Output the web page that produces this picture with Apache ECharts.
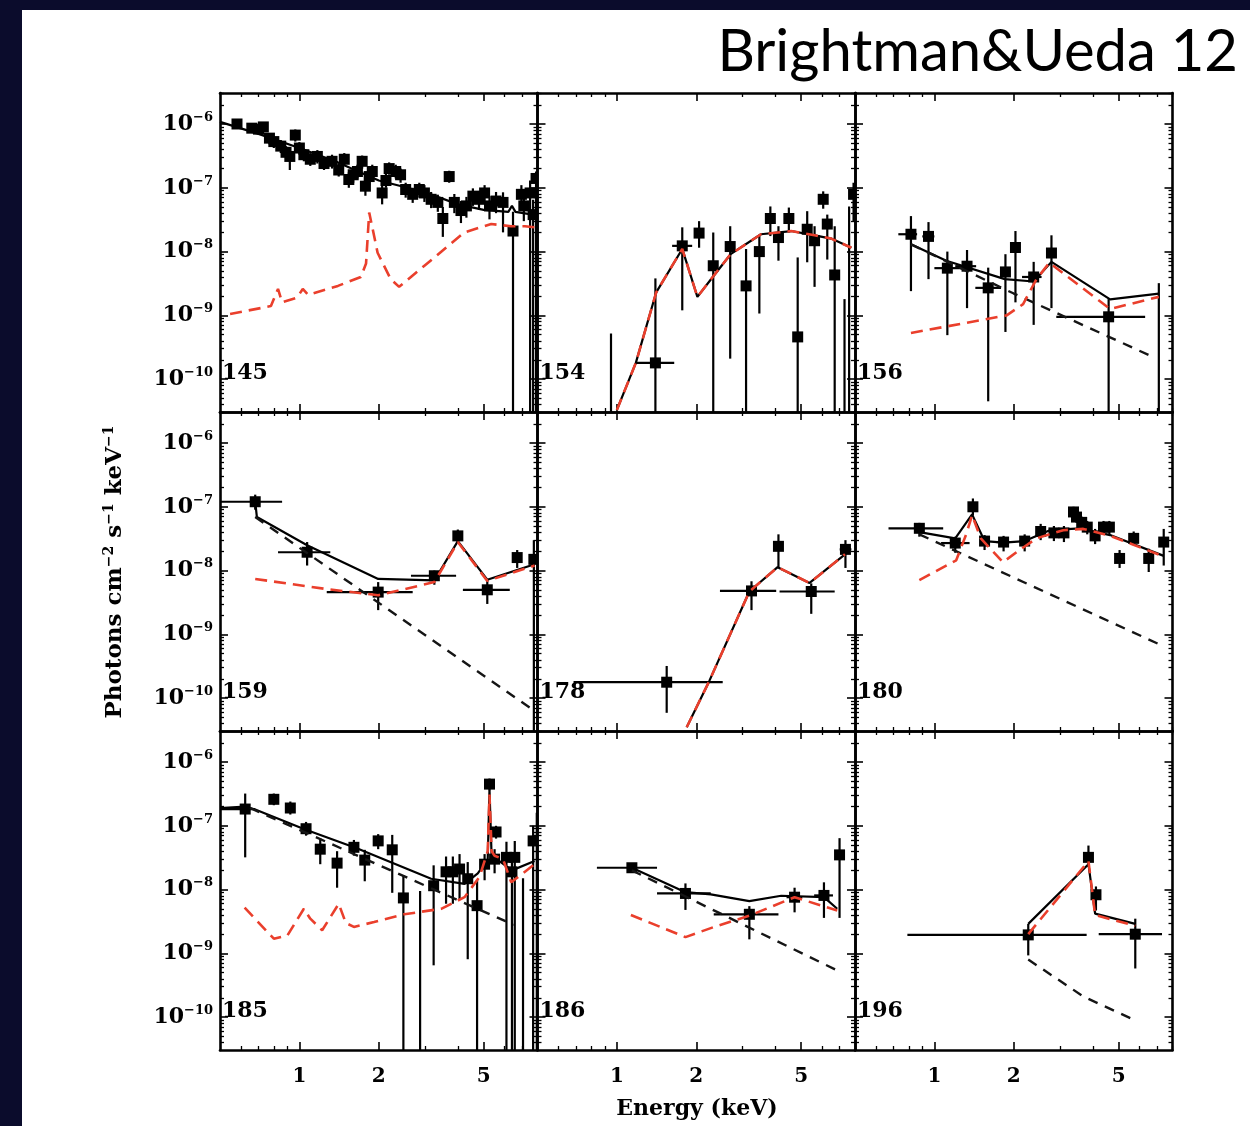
<!DOCTYPE html>
<html><head><meta charset="utf-8">
<script src="https://cdn.jsdelivr.net/npm/echarts@6/dist/echarts.min.js"></script>
<style>html,body{margin:0;padding:0;background:#fff}#c{width:1250px;height:1126px}</style>
</head><body><div id="c"></div><script>
// ---------- tick values ----------
const xMajor = [1, 2, 5];
const xMinor = [0.6, 0.7, 0.8, 0.9, 3, 4, 6, 7, 8];
const yMajor = [1e-10, 1e-9, 1e-8, 1e-7, 1e-6];
const yMinorMult = [2, 3, 4, 5, 6, 7, 8, 9];
const panelNames = ['145', '154', '156', '159', '178', '180', '185', '186', '196'];

// ---------- data points: [E, F, Elo, Ehi, Flo, Fhi] ----------
const pts145 = [
 [0.58,1.0e-6,0.56,0.60,8.5e-7,1.15e-6],[0.66,8.6e-7,0.64,0.68,7.2e-7,1.0e-6],[0.70,8.3e-7,0.68,0.72,6.8e-7,9.8e-7],
 [0.73,9.0e-7,0.71,0.75,7.4e-7,1.06e-6],[0.77,6.0e-7,0.75,0.79,4.8e-7,7.2e-7],[0.80,5.3e-7,0.78,0.82,4.2e-7,6.5e-7],
 [0.85,4.5e-7,0.83,0.87,3.5e-7,5.6e-7],[0.89,3.6e-7,0.87,0.91,2.8e-7,4.5e-7],[0.92,3.1e-7,0.90,0.94,1.9e-7,4.0e-7],
 [0.965,6.7e-7,0.945,0.985,5.3e-7,8.2e-7],[1.0,4.2e-7,0.98,1.02,3.3e-7,5.2e-7],[1.04,3.3e-7,1.02,1.06,2.6e-7,4.1e-7],
 [1.10,2.8e-7,1.08,1.12,2.2e-7,3.5e-7],[1.17,3.1e-7,1.15,1.19,2.4e-7,3.9e-7],[1.24,2.4e-7,1.22,1.26,1.9e-7,3.0e-7],
 [1.33,2.6e-7,1.31,1.35,2.0e-7,3.3e-7],[1.41,1.9e-7,1.39,1.43,1.5e-7,2.4e-7],[1.48,2.8e-7,1.46,1.50,2.2e-7,3.5e-7],
 [1.54,1.35e-7,1.52,1.56,1.0e-7,1.75e-7],[1.60,1.6e-7,1.58,1.62,1.2e-7,2.0e-7],[1.66,1.8e-7,1.64,1.68,1.4e-7,2.3e-7],
 [1.73,2.6e-7,1.71,1.75,2.0e-7,3.2e-7],[1.78,1.06e-7,1.76,1.80,7.5e-8,1.4e-7],[1.84,1.5e-7,1.82,1.86,1.1e-7,1.9e-7],
 [1.89,1.8e-7,1.87,1.91,1.4e-7,2.3e-7],[2.06,8.3e-8,2.03,2.09,5.5e-8,1.1e-7],[2.13,1.3e-7,2.10,2.16,1.0e-7,1.7e-7],
 [2.19,2.0e-7,2.16,2.22,1.6e-7,2.5e-7],[2.32,1.8e-7,2.29,2.35,1.4e-7,2.3e-7],[2.42,1.6e-7,2.39,2.45,1.2e-7,2.0e-7],
 [2.53,9.4e-8,2.50,2.56,7.0e-8,1.2e-7],[2.69,7.9e-8,2.65,2.73,5.8e-8,1.0e-7],[2.85,9.4e-8,2.81,2.89,7.0e-8,1.2e-7],
 [2.98,8.3e-8,2.94,3.02,6.0e-8,1.1e-7],[3.16,6.6e-8,3.12,3.20,4.8e-8,8.6e-8],[3.35,5.9e-8,3.30,3.40,4.2e-8,7.8e-8],
 [3.50,3.3e-8,3.45,3.55,1.7e-8,5.0e-8],[3.70,1.5e-7,3.65,3.75,1.2e-7,1.85e-7],[3.87,5.9e-8,3.82,3.92,4.0e-8,8.0e-8],
 [4.10,4.4e-8,4.04,4.16,2.8e-8,6.2e-8],[4.30,5.2e-8,4.24,4.36,3.4e-8,7.2e-8],[4.55,7.4e-8,4.48,4.62,5.2e-8,9.8e-8],
 [4.80,6.6e-8,4.73,4.87,4.5e-8,9.0e-8],[5.04,8.3e-8,4.97,5.11,5.8e-8,1.1e-7],[5.26,5.2e-8,5.18,5.34,3.2e-8,7.4e-8],
 [5.57,6.2e-8,5.49,5.65,4.0e-8,8.6e-8],[5.92,5.9e-8,5.83,6.01,2.0e-8,8.5e-8],[6.46,2.1e-8,6.36,6.56,1e-12,4.2e-8],
 [6.95,7.9e-8,6.85,7.05,5.0e-8,1.1e-7],[7.10,5.2e-8,7.00,7.20,3.0e-8,7.5e-8],[7.50,8.3e-8,7.40,7.60,1e-12,1.3e-7],
 [7.70,3.8e-8,7.60,7.80,1e-12,6.5e-8],[7.90,1.4e-7,7.82,7.98,1e-12,1.8e-7]
];
const pts154 = [
 [1.40,1.8e-10,1.18,1.65,1e-12,3.8e-9],[0.95,1e-12,0.95,0.95,1e-12,5.2e-10],[1.77,1.23e-8,1.62,1.93,1.2e-9,2.4e-8],
 [2.05,1.95e-8,2.0,2.1,1.15e-8,3.0e-8],[2.32,6.0e-9,2.27,2.37,1e-12,2.0e-8],[2.69,1.2e-8,2.62,2.76,2.1e-10,2.5e-8],
 [3.09,2.9e-9,3.0,3.18,1e-12,1.1e-8],[3.47,1.0e-8,3.4,3.55,1.07e-9,1.8e-8],[3.82,3.3e-8,3.75,3.9,1.75e-8,5.1e-8],
 [4.10,1.66e-8,4.03,4.17,7.2e-9,2.5e-8],[4.49,3.3e-8,4.42,4.56,2.0e-8,4.9e-8],[4.85,4.6e-10,4.8,4.9,1e-12,8.1e-9],
 [5.27,2.24e-8,5.2,5.34,6.8e-9,4.3e-8],[5.62,1.48e-8,5.55,5.69,2.8e-9,2.5e-8],[6.06,6.6e-8,6.0,6.12,4.7e-8,8.8e-8],
 [6.28,2.7e-8,6.22,6.34,7.5e-9,3.8e-8],[6.70,4.3e-9,6.64,6.76,1e-12,2.5e-8],[7.3,1e-12,7.3,7.3,1e-12,1.8e-9],
 [7.6,1e-12,7.6,7.6,1e-12,5.1e-8],[7.9,7.9e-8,7.82,7.98,3.0e-8,1.2e-7]
];
const pts156 = [
 [0.815,1.87e-8,0.73,0.86,2.4e-9,3.6e-8],[0.95,1.73e-8,0.90,1.0,3.7e-9,2.9e-8],[1.12,5.5e-9,1.0,1.29,4.9e-10,1.0e-8],
 [1.33,5.9e-9,1.2,1.44,1.3e-9,1.06e-8],[1.6,2.7e-9,1.43,1.79,4.5e-11,5.6e-9],[1.86,4.8e-9,1.8,1.92,5.5e-10,9.1e-9],
 [2.03,1.16e-8,2.0,2.06,1.6e-9,2.1e-8],[2.38,4.0e-9,2.15,2.55,7.1e-10,6.9e-9],[2.78,9.5e-9,2.73,2.83,1.3e-9,1.8e-8],
 [4.58,9.5e-10,2.9,6.3,1e-12,1.8e-9],[7.1,1e-12,7.1,7.1,1e-12,3.2e-9]
];
const pts159 = [
 [0.68,1.2e-7,0.5,0.86,9.0e-8,1.55e-7],[1.07,1.94e-8,0.83,1.31,1.2e-8,2.8e-8],[1.99,4.6e-9,1.27,2.69,2.4e-9,6.6e-9],
 [3.25,8.3e-9,2.65,3.93,6.0e-9,1.0e-8],[3.99,3.5e-8,3.9,4.08,2.7e-8,4.4e-8],[5.16,5.0e-9,4.17,6.28,3.0e-9,7.4e-9],
 [6.70,1.6e-8,6.5,6.9,1.1e-8,2.1e-8],[7.75,1.5e-8,7.6,7.9,1e-12,3.0e-8]
];
const pts178 = [
 [1.545,1.78e-10,0.685,2.52,5.9e-11,3.2e-10],[3.24,4.8e-9,2.46,4.02,2.4e-9,6.8e-9],[4.10,2.4e-8,4.05,4.15,1.1e-8,3.7e-8],
 [5.46,4.7e-9,4.14,6.7,2.1e-9,6.3e-9],[7.36,2.15e-8,7.0,7.75,1.1e-8,3.0e-8]
];
const pts180 = [
 [0.877,4.6e-8,0.67,1.08,3.4e-8,5.6e-8],[1.2,2.7e-8,1.06,1.36,1.9e-8,3.4e-8],[1.4,1.0e-7,1.36,1.44,7.3e-8,1.35e-7],
 [1.55,2.9e-8,1.5,1.6,2.1e-8,3.6e-8],[1.83,2.8e-8,1.72,1.93,2.0e-8,3.5e-8],[2.2,2.9e-8,2.1,2.3,2.0e-8,3.7e-8],
 [2.53,4.1e-8,2.45,2.61,3.0e-8,5.4e-8],[2.84,3.9e-8,2.76,2.92,2.9e-8,5.0e-8],[3.1,3.9e-8,3.02,3.18,2.8e-8,5.0e-8],
 [3.37,8.3e-8,3.33,3.41,6.6e-8,1.0e-7],[3.46,6.9e-8,3.42,3.5,5.6e-8,8.3e-8],[3.62,5.7e-8,3.57,3.67,4.5e-8,7.0e-8],
 [3.8,4.8e-8,3.75,3.85,3.7e-8,6.0e-8],[4.07,3.5e-8,4.0,4.14,2.6e-8,4.5e-8],[4.38,4.8e-8,4.3,4.46,3.7e-8,6.0e-8],
 [4.61,4.8e-8,4.53,4.69,3.7e-8,6.0e-8],[5.04,1.55e-8,4.95,5.13,1.1e-8,2.1e-8],[5.7,3.2e-8,5.6,5.8,2.5e-8,4.1e-8],
 [6.5,1.55e-8,6.3,6.7,9.5e-9,2.2e-8],[7.41,2.8e-8,7.3,7.52,1.2e-8,4.5e-8]
];
const pts185 = [
 [0.623,1.83e-7,0.5,0.68,3.2e-8,3.2e-7],[0.80,2.6e-7,0.77,0.83,2.1e-7,3.2e-7],[0.924,1.9e-7,0.89,0.96,1.5e-7,2.4e-7],
 [1.06,9.0e-8,1.02,1.1,7.0e-8,1.15e-7],[1.2,4.3e-8,1.15,1.25,2.5e-8,6.4e-8],[1.39,2.6e-8,1.33,1.45,1.07e-8,4.0e-8],
 [1.61,4.6e-8,1.56,1.66,3.4e-8,6.0e-8],[1.77,2.9e-8,1.72,1.82,1.35e-8,4.2e-8],[1.99,5.8e-8,1.94,2.04,4.3e-8,7.4e-8],
 [2.25,4.2e-8,2.19,2.31,8.9e-9,7.2e-8],[2.48,7.4e-9,2.4,2.56,1e-12,1.7e-8],[2.87,1e-12,2.87,2.87,1e-12,9.5e-9],
 [3.23,1.15e-8,3.1,3.36,6.5e-10,2.4e-8],[3.6,1.9e-8,3.5,3.7,6e-9,3.3e-8],[3.82,1.9e-8,3.72,3.92,6e-9,3.3e-8],
 [4.05,2.1e-8,3.95,4.15,7e-9,3.6e-8],[4.35,1.48e-8,4.25,4.45,8.1e-10,2.7e-8],[4.72,5.6e-9,4.6,4.85,1e-12,1.4e-8],
 [5.04,2.5e-8,4.95,5.13,1.4e-8,3.6e-8],[5.26,4.5e-7,5.2,5.32,3.6e-7,5.5e-7],[5.5,3.0e-8,5.42,5.58,1.8e-8,4.3e-8],
 [5.57,8.0e-8,5.5,5.64,6.3e-8,1.0e-7],[6.1,3.2e-8,6.0,6.2,1e-12,5.6e-8],[6.4,1.9e-8,6.3,6.5,1e-12,3.5e-8],
 [6.56,3.2e-8,6.46,6.66,1e-12,5.8e-8],[7.05,1e-12,7.05,7.05,1e-12,1.5e-8],[7.7,5.8e-8,7.6,7.8,1e-12,1.0e-7],
 [7.95,1e-12,7.95,7.95,1e-12,1.6e-7]
];
const pts186 = [
 [1.14,2.2e-8,0.84,1.42,1.9e-8,2.6e-8],[1.82,8.7e-9,1.42,2.27,4.8e-9,1.25e-8],[3.18,4.1e-9,2.33,4.1,1.66e-9,5.5e-9],
 [4.72,7.6e-9,4.4,5.05,4.4e-9,1.07e-8],[6.1,8.1e-9,5.6,6.6,3.6e-9,1.3e-8],[6.99,3.5e-8,6.9,7.1,3.6e-9,6.4e-8]
];
const pts196 = [
 [2.27,1.95e-9,0.79,3.78,9.3e-10,2.9e-9],[3.84,3.2e-8,3.8,3.88,2.5e-8,4.9e-8],[4.1,8.3e-9,4.05,4.15,4.7e-9,1.12e-8],
 [5.78,2.0e-9,4.2,7.3,5.8e-10,3.5e-9]
];

// ---------- model curves: [E, F] ----------
const tot145 = [[0.5,1.08e-6],[0.7,7.0e-7],[1.0,4.2e-7],[1.4,2.5e-7],[2.0,1.3e-7],[3.0,8.5e-8],[4.0,5.5e-8],[5.0,4.5e-8],[6.2,4.2e-8],[6.4,5.2e-8],[6.6,4.2e-8],[8.0,3.7e-8]];
const rfl145 = [[0.546,1.05e-9],[0.78,1.4e-9],[0.83,2.6e-9],[0.86,1.6e-9],[0.98,1.9e-9],[1.03,2.6e-9],[1.08,2.1e-9],[1.4,2.9e-9],[1.71,4.0e-9],[1.79,6.5e-9],[1.84,4.1e-8],[1.98,9.6e-9],[2.22,3.7e-9],[2.39,2.8e-9],[2.98,6.0e-9],[3.55,1.1e-8],[4.22,2.0e-8],[5.34,2.7e-8],[6.36,2.5e-8],[7.16,2.5e-8],[7.8,2.4e-8]];
const tot154 = [[1.0,3.3e-11],[1.18,1.8e-10],[1.41,2.3e-9],[1.77,1.1e-8],[2.02,1.95e-9],[2.31,4.0e-9],[2.7,9.1e-9],[3.52,1.87e-8],[4.58,2.1e-8],[5.62,1.8e-8],[6.5,1.6e-8],[7.75,1.15e-8]];
const tot156 = [[0.815,1.3e-8],[1.11,7.2e-9],[1.85,3.7e-9],[2.38,3.4e-9],[2.78,6.9e-9],[4.64,1.78e-9],[7.1,2.2e-9]];
const rfl156 = [[0.815,5.3e-10],[1.88,1.0e-9],[2.17,1.5e-9],[2.44,3.7e-9],[2.73,6.7e-9],[4.64,1.26e-9],[7.1,1.95e-9]];
const pl156  = [[0.815,1.3e-8],[2.0,2.2e-9],[6.8,2.2e-10]];
const tot159 = [[0.68,1.2e-7],[0.69,6.9e-8],[1.07,2.5e-8],[1.99,7.4e-9],[3.25,7.0e-9],[3.99,2.9e-8],[5.16,7.2e-9],[7.8,1.26e-8]];
const rfl159 = [[0.68,7.4e-9],[1.24,5.2e-9],[1.99,4.1e-9],[3.25,6.6e-9],[3.99,2.8e-8],[5.16,6.9e-9],[7.8,1.2e-8]];
const pl159  = [[0.68,6.9e-8],[7.8,6.3e-11]];
const tot178 = [[1.84,3.5e-11],[2.24,1.85e-10],[3.18,4.7e-9],[4.07,1.13e-8],[5.38,6.4e-9],[7.33,1.8e-8]];
const tot180 = [[0.877,4.0e-8],[1.2,3.2e-8],[1.39,7.6e-8],[1.55,2.9e-8],[1.83,2.75e-8],[2.2,2.9e-8],[2.74,4.3e-8],[3.57,4.6e-8],[4.64,3.6e-8],[7.41,1.7e-8]];
const rfl180 = [[0.877,7.1e-9],[1.21,1.45e-8],[1.32,3.7e-8],[1.39,7.4e-8],[1.5,3.2e-8],[1.82,1.35e-8],[2.05,1.95e-8],[2.44,3.2e-8],[3.08,4.3e-8],[3.67,4.5e-8],[4.64,3.5e-8],[7.41,1.67e-8]];
const pl180  = [[0.877,3.7e-8],[7.41,6.5e-10]];
const tot185 = [[0.5,1.9e-7],[0.623,2.0e-7],[0.68,1.8e-7],[1.04,8.9e-8],[1.66,4.4e-8],[3.16,1.48e-8],[4.23,1.23e-8],[4.75,1.8e-8],[5.18,3.0e-8],[5.26,3.7e-7],[5.36,3.2e-8],[5.6,3.0e-8],[6.4,2.0e-8],[7.8,2.8e-8]];
const rfl185 = [[0.62,5.2e-9],[0.8,1.7e-9],[0.9,1.9e-9],[1.04,5.0e-9],[1.1,3.5e-9],[1.22,2.3e-9],[1.41,6.0e-9],[1.5,3.0e-9],[1.61,2.6e-9],[1.92,3.1e-9],[2.5,4.1e-9],[3.45,5.0e-9],[4.23,7.6e-9],[4.82,1.58e-8],[5.18,4.0e-8],[5.26,3.1e-7],[5.36,4.0e-8],[5.5,3.4e-8],[5.92,3.0e-8],[6.36,1.3e-8],[7.8,2.5e-8]];
const pl185  = [[0.65,1.9e-7],[6.5,2.8e-9]];
const tot186 = [[1.14,2.2e-8],[1.82,9.1e-9],[2.27,8.4e-9],[3.18,6.6e-9],[4.2,8.0e-9],[6.1,7.6e-9],[6.85,5.0e-9]];
const rfl186 = [[1.13,4.0e-9],[1.82,1.8e-9],[2.34,2.6e-9],[3.18,3.9e-9],[4.72,7.6e-9],[6.85,4.7e-9]];
const pl186  = [[1.14,2.0e-8],[6.85,5.4e-10]];
const tot196 = [[2.27,2.9e-9],[3.84,2.5e-8],[4.07,4.2e-9],[5.78,2.9e-9]];
const rfl196 = [[2.27,2.0e-9],[3.84,2.8e-8],[4.07,4.0e-9],[5.78,2.7e-9]];
const pl196  = [[2.27,8.0e-10],[3.68,2.1e-10],[5.78,8.9e-11]];

const panels = [
 {pts:pts145, tot:tot145, rfl:rfl145, pl:null},
 {pts:pts154, tot:tot154, rfl:tot154, pl:null},
 {pts:pts156, tot:tot156, rfl:rfl156, pl:pl156},
 {pts:pts159, tot:tot159, rfl:rfl159, pl:pl159},
 {pts:pts178, tot:tot178, rfl:tot178, pl:null},
 {pts:pts180, tot:tot180, rfl:rfl180, pl:pl180},
 {pts:pts185, tot:tot185, rfl:rfl185, pl:pl185},
 {pts:pts186, tot:tot186, rfl:rfl186, pl:pl186},
 {pts:pts196, tot:tot196, rfl:rfl196, pl:pl196}
];

// ---------- layout ----------
const X_MIN = 0.5, X_MAX = 8, Y_MIN = 3.06e-11, Y_MAX = 3.06e-6;
const colLeft = [220, 537.5, 855], W = 317.5;
const rowTop = [93, 412, 731], H = 319;
const SERIF = '"DejaVu Serif", serif';
const RED = '#ea3f2c';

const yMinor = [];
for (let n = -11; n <= -6; n++) for (const k of yMinorMult) { const v = k * Math.pow(10, n); if (v > Y_MIN && v < Y_MAX) yMinor.push(v); }

const grids = [], xAxes = [], yAxes = [], series = [], graphics = [];
const axLine = {show:true, onZero:false, lineStyle:{color:'#000', width:2.6}};
const noLine = {show:false, onZero:false};

panels.forEach((p, i) => {
  const r = Math.floor(i / 3), c = i % 3;
  grids.push({left: colLeft[c], top: rowTop[r], width: W, height: H});
  const base = {type:'log', logBase:10, gridIndex:i, min:X_MIN, max:X_MAX, splitLine:{show:false}, minorTick:{show:false}};
  ['bottom','top'].forEach(pos => {
    xAxes.push(Object.assign({}, base, {position:pos, axisLine:axLine,
      axisTick:{show:true, inside:true, length:8, customValues:xMajor, lineStyle:{color:'#000', width:1.6}},
      axisLabel:{show: pos === 'bottom' && r === 2, customValues:xMajor, margin:17, color:'#000',
        fontFamily:SERIF, fontSize:20, fontWeight:'bold', formatter: v => String(v)}}));
    xAxes.push(Object.assign({}, base, {position:pos, axisLine:noLine,
      axisTick:{show:true, inside:true, length:4, customValues:xMinor, lineStyle:{color:'#000', width:1.3}},
      axisLabel:{show:false}}));
  });
  const ybase = {type:'log', logBase:10, gridIndex:i, min:Y_MIN, max:Y_MAX, splitLine:{show:false}, minorTick:{show:false}};
  ['left','right'].forEach(pos => {
    yAxes.push(Object.assign({}, ybase, {position:pos, axisLine:axLine,
      axisTick:{show:true, inside:true, length:8, customValues:yMajor, lineStyle:{color:'#000', width:1.6}},
      axisLabel:{show: pos === 'left' && c === 0, customValues:yMajor, margin:7,
        formatter: v => '{b|10}{s|\u2212' + (-Math.round(Math.log10(v))) + '}',
        rich:{b:{fontFamily:SERIF, fontSize:22, fontWeight:'bold', color:'#000', lineHeight:26},
              s:{fontFamily:SERIF, fontSize:13, fontWeight:'bold', color:'#000', lineHeight:16, verticalAlign:'top'}}}}));
    yAxes.push(Object.assign({}, ybase, {position:pos, axisLine:noLine,
      axisTick:{show:true, inside:true, length:4, customValues:yMinor, lineStyle:{color:'#000', width:1.3}},
      axisLabel:{show:false}}));
  });
  const xi = 4 * i, yi = 4 * i;
  series.push({type:'custom', xAxisIndex:xi, yAxisIndex:yi, clip:true, silent:true, animation:false,
    data:p.pts, encode:{x:0, y:1},
    renderItem:(params, api) => {
      const E = api.value(0), F = api.value(1);
      const pt = api.coord([E, F]);
      const xl = api.coord([api.value(2), F])[0], xh = api.coord([api.value(3), F])[0];
      const yl = api.coord([E, api.value(4)])[1], yh = api.coord([E, api.value(5)])[1];
      const s = 5.5, st = {stroke:'#000', lineWidth:2.2};
      return {type:'group', children:[
        {type:'line', shape:{x1:xl, y1:pt[1], x2:xh, y2:pt[1]}, style:st},
        {type:'line', shape:{x1:pt[0], y1:yl, x2:pt[0], y2:yh}, style:st},
        {type:'rect', shape:{x:pt[0]-s, y:pt[1]-s, width:2*s, height:2*s}, style:{fill:'#000'}}
      ]};
    }});
  series.push({type:'line', xAxisIndex:xi, yAxisIndex:yi, data:p.tot, symbol:'none', silent:true, animation:false,
    lineStyle:{color:'#000', width:2.2}});
  if (p.pl) series.push({type:'line', xAxisIndex:xi, yAxisIndex:yi, data:p.pl, symbol:'none', silent:true, animation:false,
    lineStyle:{color:'#151515', width:2.4, type:[10, 8]}});
  series.push({type:'line', xAxisIndex:xi, yAxisIndex:yi, data:p.rfl, symbol:'none', silent:true, animation:false,
    lineStyle:{color:RED, width:2.6, type:[12, 7]}});
  graphics.push({type:'text', x: colLeft[c] + 2, y: rowTop[r] + 280,
    style:{text: panelNames[i], fontFamily:SERIF, fontSize:22, fontWeight:'bold', fill:'#000', textVerticalAlign:'middle'}});
});

// frame + titles
graphics.push({type:'rect', shape:{x:0, y:0, width:22, height:1126}, style:{fill:'#0b0c2c'}});
graphics.push({type:'rect', shape:{x:0, y:0, width:1250, height:10}, style:{fill:'#0b0c2c'}});
graphics.push({type:'text', x:1238, y:52, style:{text:'Brightman&Ueda 12', fontFamily:'Lato', fontSize:58, fill:'#000', textAlign:'right', textVerticalAlign:'middle'}});
graphics.push({type:'text', x:697, y:1109, style:{text:'Energy (keV)', fontFamily:SERIF, fontSize:22, fontWeight:'bold', fill:'#000', textAlign:'center', textVerticalAlign:'middle'}});
graphics.push({type:'text', x:115, y:572, rotation:Math.PI/2,
  style:{text:'{a|Photons cm}{s|\u22122}{a| s}{s|\u22121}{a| keV}{s|\u22121}', textAlign:'center', textVerticalAlign:'middle',
    rich:{a:{fontFamily:SERIF, fontSize:23, fontWeight:'bold', fill:'#000', lineHeight:26},
          s:{fontFamily:SERIF, fontSize:14, fontWeight:'bold', fill:'#000', lineHeight:14, verticalAlign:'top'}}}});

const chart = echarts.init(document.getElementById('c'));
chart.setOption({
  backgroundColor:'#fff', animation:false,
  grid:grids, xAxis:xAxes, yAxis:yAxes, series:series, graphic:graphics
});
</script></body></html>
